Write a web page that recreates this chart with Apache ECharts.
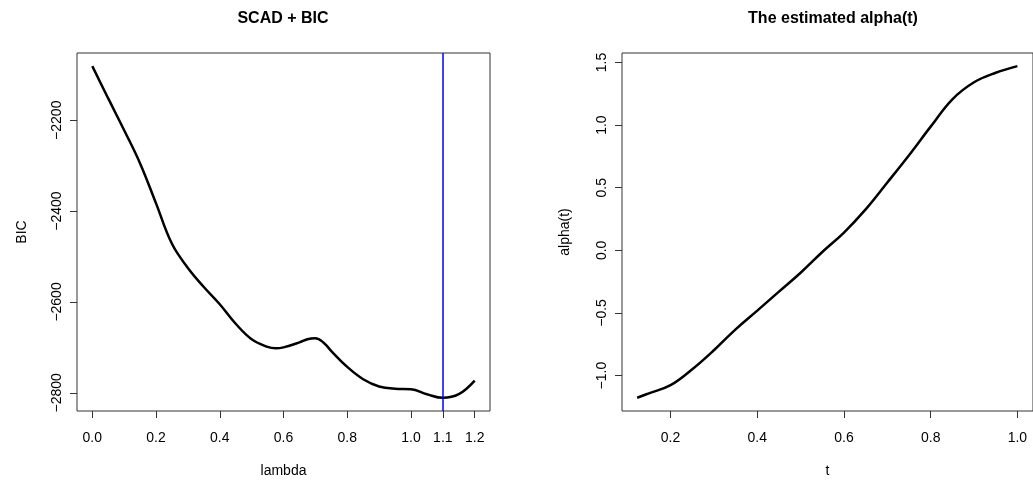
<!DOCTYPE html>
<html>
<head>
<meta charset="utf-8">
<script src="https://cdn.jsdelivr.net/npm/echarts@6/dist/echarts.min.js"></script>
<style>
html,body{margin:0;padding:0;background:#fff;}
#c{width:1033px;height:483px;}
</style>
</head>
<body>
<div id="c"></div>
<script>
// Left panel: SCAD + BIC
const lambdaVals = [0.00,0.05,0.10,0.15,0.20,0.25,0.30,0.35,0.40,0.45,0.50,0.55,0.575,0.60,0.65,0.675,0.70,0.725,0.75,0.80,0.85,0.90,0.95,1.00,1.05,1.10,1.15,1.20];
const bicVals    = [-2081,-2152,-2222,-2295,-2383,-2472,-2525,-2567,-2605,-2648,-2682,-2699,-2702,-2700,-2689,-2682,-2680,-2689,-2708,-2743,-2770,-2786,-2791,-2792,-2803,-2811,-2803,-2773];
const selectedLambda = 1.1;
const lambdaTicks = [0.0,0.2,0.4,0.6,0.8,1.0,1.1,1.2];
const bicTicks = [-2800,-2600,-2400,-2200];

// Right panel: estimated alpha(t)
const tVals     = [0.123,0.15,0.20,0.25,0.30,0.35,0.40,0.45,0.50,0.55,0.60,0.65,0.70,0.75,0.80,0.85,0.90,0.95,1.00];
const alphaVals = [-1.177,-1.142,-1.077,-0.950,-0.798,-0.631,-0.481,-0.330,-0.179,-0.013,0.142,0.327,0.542,0.760,0.988,1.206,1.342,1.418,1.471];
const tTicks = [0.2,0.4,0.6,0.8,1.0];
const alphaTicks = [-1.0,-0.5,0.0,0.5,1.0,1.5];

const FONT = 'Liberation Sans, Arial, Helvetica, sans-serif';
const fmt1 = v => Number(v).toFixed(1).replace('-', '\u2212');
const fmt0 = v => String(Math.round(v)).replace('-', '\u2212');

function xAxisCfg(gridIndex, min, max, ticks, name) {
  return {
    type: 'value', gridIndex, min, max, position: 'bottom',
    name, nameLocation: 'middle', nameGap: 53,
    nameTextStyle: {fontFamily: FONT, fontSize: 14, color: '#000'},
    axisLine: {show: false, onZero: false},
    axisTick: {show: true, inside: false, length: 7, lineStyle: {color: '#333', width: 1}, customValues: ticks},
    axisLabel: {show: true, margin: 20, fontFamily: FONT, fontSize: 14, color: '#000', customValues: ticks, formatter: fmt1},
    splitLine: {show: false}
  };
}
function yAxisCfg(gridIndex, min, max, ticks, name, fmt, nameGap) {
  return {
    type: 'value', gridIndex, min, max, position: 'left',
    name, nameLocation: 'middle', nameGap,
    nameTextStyle: {fontFamily: FONT, fontSize: 14, color: '#000'},
    axisLine: {show: false, onZero: false},
    axisTick: {show: true, inside: false, length: 7, lineStyle: {color: '#333', width: 1}, customValues: ticks},
    axisLabel: {show: true, rotate: 90, margin: 13, fontFamily: FONT, fontSize: 14, color: '#000', customValues: ticks, formatter: fmt},
    splitLine: {show: false}
  };
}

const chart = echarts.init(document.getElementById('c'), null, {renderer: 'canvas'});
chart.setOption({
  backgroundColor: '#fff',
  animation: false,
  title: [
    {text: 'SCAD + BIC', left: 283, top: 11, textAlign: 'center', padding: 0,
     textStyle: {fontFamily: FONT, fontSize: 16, fontWeight: 'bold', color: '#000'}},
    {text: 'The estimated alpha(t)', left: 833, top: 11, textAlign: 'center', padding: 0,
     textStyle: {fontFamily: FONT, fontSize: 16, fontWeight: 'bold', color: '#000'}}
  ],
  grid: [
    {left: 77, top: 53, width: 413, height: 359, show: true, borderColor: '#333', borderWidth: 1, backgroundColor: 'transparent', containLabel: false},
    {left: 622, top: 53, width: 413, height: 359, show: true, borderColor: '#333', borderWidth: 1, backgroundColor: 'transparent', containLabel: false}
  ],
  xAxis: [
    xAxisCfg(0, -0.048, 1.248, lambdaTicks, 'lambda'),
    xAxisCfg(1, 0.088, 1.036, tTicks, 't')
  ],
  yAxis: [
    yAxisCfg(0, -2840, -2052, bicTicks, 'BIC', fmt0, 48),
    yAxisCfg(1, -1.283, 1.576, alphaTicks, 'alpha(t)', fmt1, 50)
  ],
  series: [
    {
      type: 'line', xAxisIndex: 0, yAxisIndex: 0,
      data: lambdaVals.map((x, i) => [x, bicVals[i]]),
      smooth: 0.4, showSymbol: false, symbol: 'none',
      lineStyle: {color: '#000', width: 2.5},
      markLine: {
        silent: true, symbol: 'none', label: {show: false},
        lineStyle: {color: '#0000ff', width: 1.5, type: 'solid'},
        data: [{xAxis: selectedLambda}]
      }
    },
    {
      type: 'line', xAxisIndex: 1, yAxisIndex: 1,
      data: tVals.map((x, i) => [x, alphaVals[i]]),
      smooth: 0.4, showSymbol: false, symbol: 'none',
      lineStyle: {color: '#000', width: 2.5}
    }
  ]
});
</script>
</body>
</html>
